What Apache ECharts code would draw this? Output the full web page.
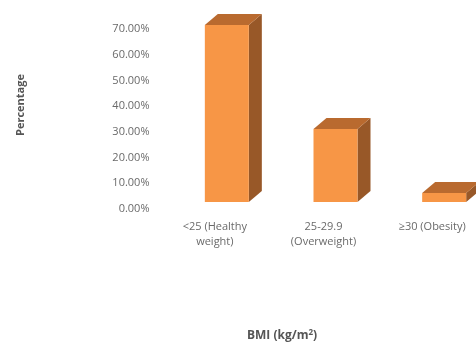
<!DOCTYPE html>
<html>
<head>
<meta charset="utf-8">
<script src="https://cdn.jsdelivr.net/npm/echarts@6/dist/echarts.min.js"></script>
<style>
  html, body { margin: 0; padding: 0; background: #fff; }
  #chart { width: 476px; height: 345px; }
</style>
</head>
<body>
<div id="chart"></div>
<script>
// BMI groups and share of respondents (%)
const categories = ['<25 (Healthy\nweight)', '25-29.9\n(Overweight)', '≥30 (Obesity)'];
const percentages = [68.8, 28.4, 3.5];
const yTicks = { min: 0, max: 70, interval: 10 };

// Box geometry for the pseudo-3D columns
const BAR_W = 44;      // front face width
const SHIFT_X = -10;   // front face left edge relative to category centre
const DEPTH_X = 13;    // receding depth, horizontal
const DEPTH_Y = -11;   // receding depth, vertical
const FLOOR_LIFT = 7;  // front floor sits slightly above the zero line

const FRONT = '#F79646';
const TOP = '#B96A2F';
const SIDE = '#985828';

const chart = echarts.init(document.getElementById('chart'), null, { renderer: 'canvas' });

function renderBox(params, api) {
  const idx = api.value(0);
  const val = api.value(1);
  const base = api.coord([idx, 0]);
  const topPt = api.coord([idx, val]);
  const x0 = base[0] + SHIFT_X;
  const x1 = x0 + BAR_W;
  const yb = base[1] - FLOOR_LIFT;
  const yt = topPt[1] - FLOOR_LIFT;
  return {
    type: 'group',
    children: [
      {
        type: 'polygon',
        shape: { points: [[x1, yb], [x1 + DEPTH_X, yb + DEPTH_Y], [x1 + DEPTH_X, yt + DEPTH_Y], [x1, yt]] },
        style: { fill: SIDE }
      },
      {
        type: 'polygon',
        shape: { points: [[x0, yt], [x0 + DEPTH_X, yt + DEPTH_Y], [x1 + DEPTH_X, yt + DEPTH_Y], [x1, yt]] },
        style: { fill: TOP }
      },
      {
        type: 'rect',
        shape: { x: x0, y: yt, width: BAR_W, height: yb - yt },
        style: { fill: FRONT }
      }
    ]
  };
}

const labelFont = { fontFamily: 'Open Sans', fontSize: 11, color: '#6a6a6a' };

chart.setOption({
  animation: false,
  backgroundColor: '#ffffff',
  grid: { left: 160.5, right: -10.5, top: 29, bottom: 136, containLabel: false, outerBoundsMode: 'none' },
  xAxis: {
    type: 'category',
    data: categories,
    axisLine: { show: false },
    axisTick: { show: false },
    splitLine: { show: false },
    axisLabel: Object.assign({ margin: 11, lineHeight: 14.5, interval: 0 }, labelFont)
  },
  yAxis: {
    type: 'value',
    min: yTicks.min,
    max: yTicks.max,
    interval: yTicks.interval,
    axisLine: { show: false },
    axisTick: { show: false },
    splitLine: { show: false },
    axisLabel: Object.assign({ margin: 11, formatter: v => v.toFixed(2) + '%' }, labelFont)
  },
  graphic: [
    {
      type: 'text',
      rotation: Math.PI / 2,
      style: {
        text: 'Percentage',
        fontFamily: 'Open Sans',
        fontWeight: 'bold',
        fontSize: 11,
        fill: '#555555',
        textAlign: 'center',
        textVerticalAlign: 'middle'
      },
      x: 21,
      y: 105
    },
    {
      type: 'text',
      style: {
        rich: {
          b: { fontFamily: 'Open Sans', fontWeight: 'bold', fontSize: 12, fill: '#555555' },
          sup: { fontFamily: 'Open Sans', fontWeight: 'bold', fontSize: 8, fill: '#555555', verticalAlign: 'top', padding: [0, 0, 6, 0] }
        },
        text: '{b|BMI (kg/m}{sup|2}{b|)}',
        textAlign: 'center',
        textVerticalAlign: 'middle'
      },
      x: 282,
      y: 336
    }
  ],
  series: [{
    type: 'custom',
    renderItem: renderBox,
    encode: { x: 0, y: 1 },
    data: percentages.map((v, i) => [i, v]),
    clip: false
  }]
});
</script>
</body>
</html>
